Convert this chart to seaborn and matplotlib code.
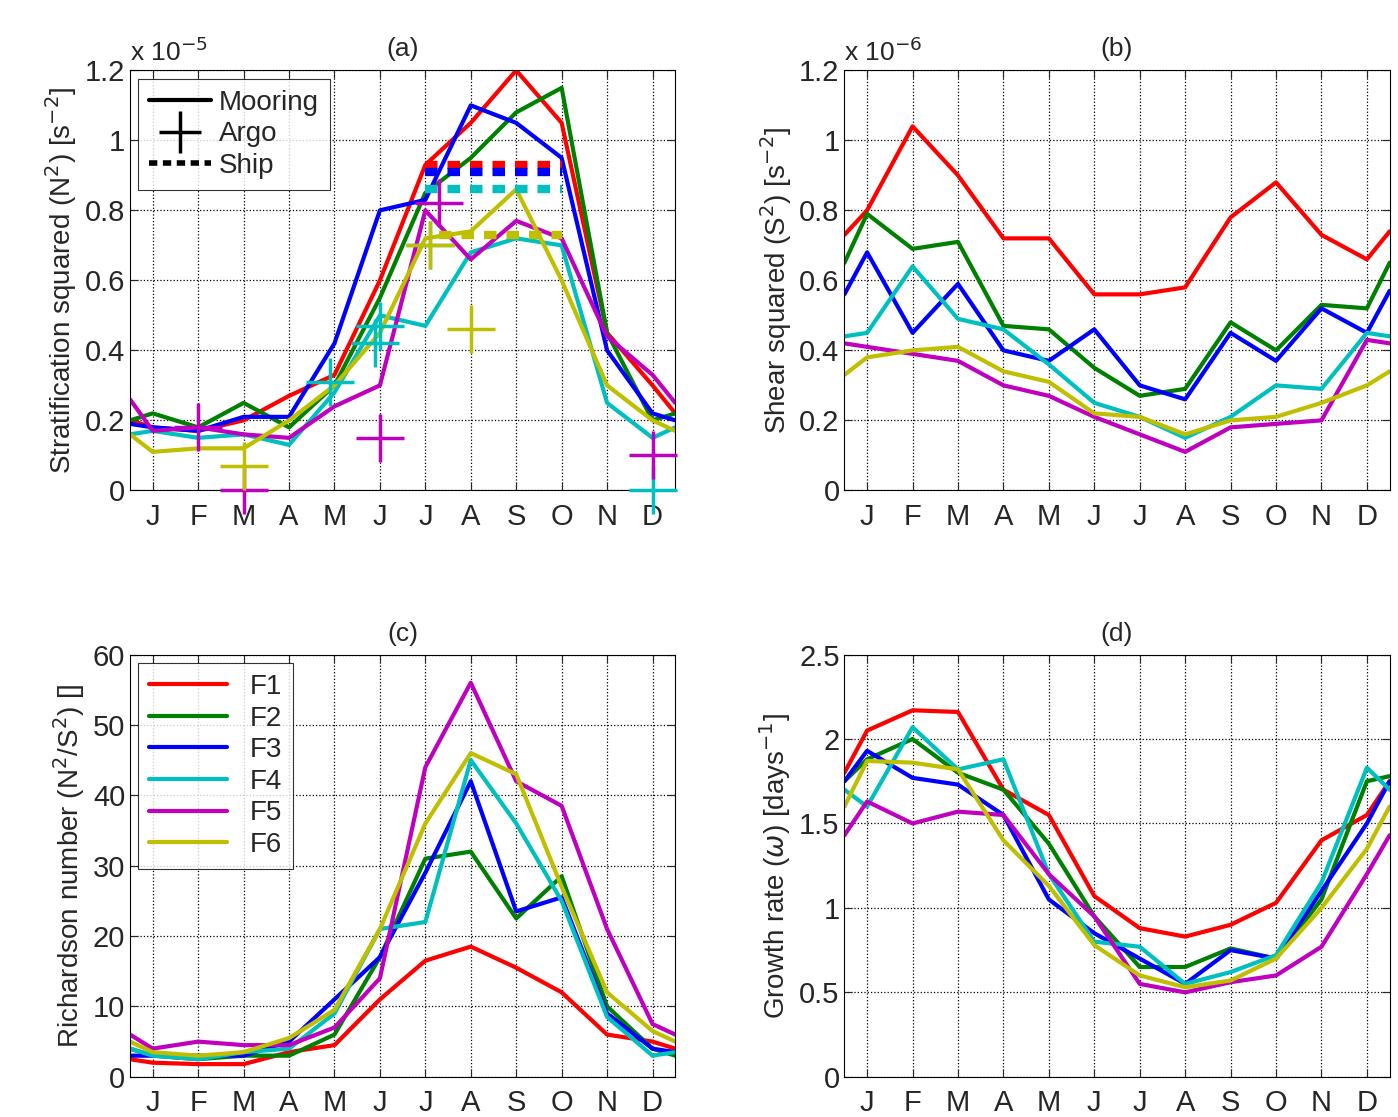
import numpy as np
import pandas as pd
import seaborn as sns
import matplotlib.pyplot as plt
from matplotlib.lines import Line2D

# month positions: edge (0.5), J..D (1..12), edge (12.5)
MONTHS = [0.5] + list(range(1, 13)) + [12.5]
MONTH_LABELS = ["J", "F", "M", "A", "M", "J", "J", "A", "S", "O", "N", "D"]
SERIES = ["F1", "F2", "F3", "F4", "F5", "F6"]
COLORS = {"F1": "#FF0000", "F2": "#008000", "F3": "#0000FF",
          "F4": "#00BFBF", "F5": "#BF00BF", "F6": "#BFBF00"}

# (a) N^2, units 1e-5 s^-2
n2 = {
    "F1": [0.20, 0.18, 0.17, 0.20, 0.27, 0.33, 0.60, 0.93, 1.05, 1.20, 1.05, 0.45, 0.30, 0.22],
    "F2": [0.20, 0.22, 0.18, 0.25, 0.18, 0.30, 0.55, 0.85, 0.95, 1.08, 1.15, 0.45, 0.20, 0.22],
    "F3": [0.19, 0.18, 0.17, 0.21, 0.21, 0.42, 0.80, 0.83, 1.10, 1.05, 0.95, 0.40, 0.22, 0.20],
    "F4": [0.16, 0.17, 0.15, 0.16, 0.13, 0.28, 0.50, 0.47, 0.68, 0.72, 0.70, 0.25, 0.15, 0.18],
    "F5": [0.26, 0.17, 0.18, 0.16, 0.15, 0.24, 0.30, 0.80, 0.66, 0.77, 0.72, 0.44, 0.33, 0.25],
    "F6": [0.16, 0.11, 0.12, 0.12, 0.20, 0.30, 0.45, 0.72, 0.74, 0.86, 0.60, 0.30, 0.20, 0.17],
}
# Argo crosses (month, value)
argo = {
    "F4": [(4.9, 0.31), (6.0, 0.47), (5.9, 0.42), (7.1, 0.70), (12.0, 0.0)],
    "F5": [(2.0, 0.18), (3.0, 0.0), (6.0, 0.15), (7.3, 0.82), (12.0, 0.10)],
    "F6": [(3.0, 0.07), (7.1, 0.70), (8.0, 0.46)],
}
# Ship dashed levels (from, to, value)
ship = {
    "F1": (7.0, 10.0, 0.93),
    "F3": (7.0, 10.0, 0.91),
    "F4": (7.0, 10.0, 0.86),
    "F6": (7.3, 10.0, 0.73),
}

# (b) S^2, units 1e-6 s^-2
s2 = {
    "F1": [0.73, 0.80, 1.04, 0.90, 0.72, 0.72, 0.56, 0.56, 0.58, 0.78, 0.88, 0.73, 0.66, 0.74],
    "F2": [0.65, 0.79, 0.69, 0.71, 0.47, 0.46, 0.35, 0.27, 0.29, 0.48, 0.40, 0.53, 0.52, 0.65],
    "F3": [0.56, 0.68, 0.45, 0.59, 0.40, 0.37, 0.46, 0.30, 0.26, 0.45, 0.37, 0.52, 0.45, 0.57],
    "F4": [0.44, 0.45, 0.64, 0.49, 0.46, 0.36, 0.25, 0.21, 0.15, 0.21, 0.30, 0.29, 0.45, 0.44],
    "F5": [0.42, 0.41, 0.39, 0.37, 0.30, 0.27, 0.21, 0.16, 0.11, 0.18, 0.19, 0.20, 0.43, 0.42],
    "F6": [0.33, 0.38, 0.40, 0.41, 0.34, 0.31, 0.22, 0.21, 0.16, 0.20, 0.21, 0.25, 0.30, 0.34],
}

# (c) Richardson number
ri = {
    "F1": [2.5, 2.0, 1.8, 1.8, 3.5, 4.5, 11, 16.5, 18.5, 15.5, 12, 6, 5, 4],
    "F2": [4, 3, 2.5, 3, 3, 6, 17, 31, 32, 22.5, 28.5, 10, 4, 3],
    "F3": [3, 3, 3, 3, 5, 11, 17, 29, 42, 23.5, 25.5, 9, 4, 3.5],
    "F4": [4, 3, 2.5, 3.5, 4, 9, 21, 22, 45, 36, 25, 8.5, 3, 3.5],
    "F5": [6, 4, 5, 4.5, 4.5, 7, 14, 44, 56, 42, 38.5, 21, 7.5, 6],
    "F6": [5, 3.5, 3, 3.5, 5.5, 9.5, 21, 36, 46, 43, 27, 12, 6.5, 5],
}

# (d) growth rate, days^-1
omega = {
    "F1": [1.80, 2.05, 2.17, 2.16, 1.70, 1.55, 1.07, 0.88, 0.83, 0.90, 1.03, 1.40, 1.55, 1.75],
    "F2": [1.75, 1.88, 2.00, 1.80, 1.70, 1.38, 0.95, 0.65, 0.65, 0.76, 0.70, 1.05, 1.75, 1.78],
    "F3": [1.75, 1.93, 1.77, 1.73, 1.55, 1.05, 0.85, 0.70, 0.55, 0.75, 0.70, 1.10, 1.50, 1.75],
    "F4": [1.70, 1.60, 2.07, 1.82, 1.88, 1.20, 0.80, 0.77, 0.55, 0.62, 0.72, 1.15, 1.83, 1.70],
    "F5": [1.43, 1.63, 1.50, 1.57, 1.55, 1.20, 0.95, 0.55, 0.50, 0.56, 0.60, 0.77, 1.20, 1.43],
    "F6": [1.60, 1.87, 1.86, 1.82, 1.40, 1.13, 0.78, 0.60, 0.53, 0.57, 0.70, 1.00, 1.35, 1.60],
}


def long_df(d):
    rows = []
    for s in SERIES:
        for m, v in zip(MONTHS, d[s]):
            rows.append({"month": m, "value": v, "site": s})
    return pd.DataFrame(rows)


sns.set_style("ticks")
plt.rcParams["font.family"] = ["Liberation Sans", "DejaVu Sans"]
plt.rcParams["font.size"] = 20

fig = plt.figure(figsize=(13.98, 11.17), dpi=100)
pos = {"a": [0.093, 0.561, 0.390, 0.376], "b": [0.604, 0.561, 0.390, 0.376],
       "c": [0.093, 0.036, 0.390, 0.378], "d": [0.604, 0.036, 0.390, 0.378]}
axes = {k: fig.add_axes(p) for k, p in pos.items()}


def style(ax, title, ylim, yticks, ylabel):
    ax.set_xlim(0.5, 12.5)
    ax.set_ylim(*ylim)
    ax.set_xticks(range(1, 13))
    ax.set_xticklabels(MONTH_LABELS)
    ax.set_yticks(yticks)
    ax.set_yticklabels([f"{t:g}" for t in yticks])
    ax.tick_params(direction="in", labelsize=21, top=True, right=True, length=6)
    ax.tick_params(axis="x", pad=9)
    ax.grid(True, ls=":", color="black", lw=0.9)
    ax.set_title(title, fontsize=19, pad=10)
    ax.set_ylabel(ylabel, fontsize=20, labelpad=4)
    ax.set_xlabel("")
    for sp in ax.spines.values():
        sp.set_linewidth(0.8)
        sp.set_color("black")


for key, data in [("a", n2), ("b", s2), ("c", ri), ("d", omega)]:
    sns.lineplot(data=long_df(data), x="month", y="value", hue="site",
                 palette=COLORS, lw=3, ax=axes[key], legend=False)

ax = axes["a"]
for s, pts in argo.items():
    for m, v in pts:
        ax.plot(m, v, marker="+", ms=34, mew=2.5, color=COLORS[s], clip_on=False, zorder=5)
for s, (x0, x1, v) in ship.items():
    ax.plot([x0, x1], [v, v], ls=(0, (1.5, 1.2)), lw=6, color=COLORS[s])
style(ax, "(a)", (0, 1.2), np.arange(0, 1.21, 0.2),
      r"Stratification squared (N$^2$) [s$^{-2}$]")
ax.text(0.0, 1.01, r"x 10$^{-5}$", transform=ax.transAxes, fontsize=19, ha="left", va="bottom")
handles = [Line2D([], [], color="black", lw=3),
           Line2D([], [], color="black", ls="none", marker="+", ms=30, mew=2.5),
           Line2D([], [], color="black", lw=4, ls=(0, (1.5, 1.0)))]
ax.legend(handles, ["Mooring", "Argo", "Ship"], loc="upper left", fontsize=20,
          frameon=True, fancybox=False, edgecolor="black", handlelength=2.2,
          borderaxespad=0.3, labelspacing=0.2, handletextpad=0.3).get_frame().set_linewidth(0.8)

ax = axes["b"]
style(ax, "(b)", (0, 1.2), np.arange(0, 1.21, 0.2),
      r"Shear squared (S$^2$) [s$^{-2}$]")
ax.text(0.0, 1.01, r"x 10$^{-6}$", transform=ax.transAxes, fontsize=19, ha="left", va="bottom")

ax = axes["c"]
style(ax, "(c)", (0, 60), np.arange(0, 61, 10),
      r"Richardson number (N$^2$/S$^2$) []")
ax.legend([Line2D([], [], color=COLORS[s], lw=3) for s in SERIES], SERIES,
          loc="upper left", fontsize=20, frameon=True, fancybox=False,
          edgecolor="black", handlelength=2.8, labelspacing=0.2,
          borderaxespad=0.3).get_frame().set_linewidth(0.8)

ax = axes["d"]
style(ax, "(d)", (0, 2.5), np.arange(0, 2.51, 0.5),
      r"Growth rate ($\omega$) [days$^{-1}$]")

fig.savefig("out.png", dpi=100)
